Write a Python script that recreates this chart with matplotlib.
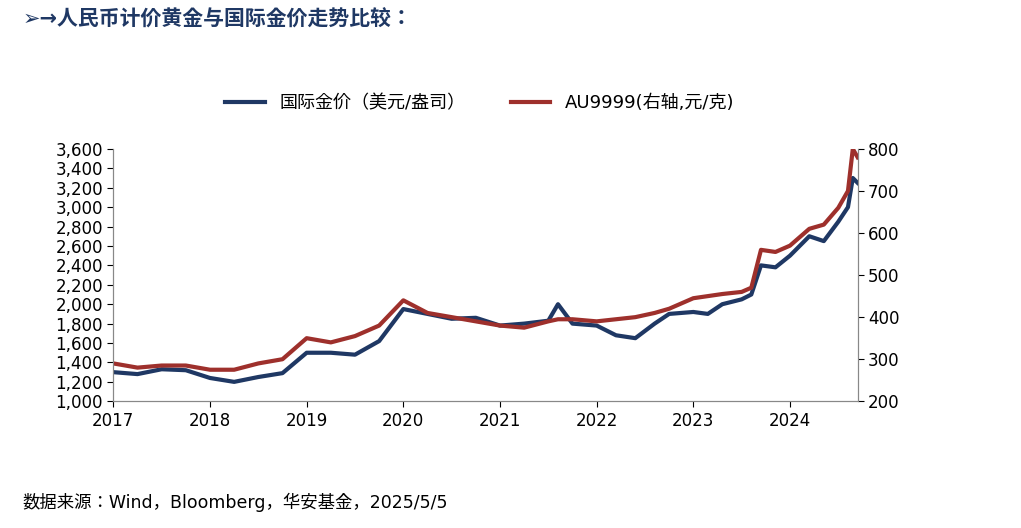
import matplotlib.pyplot as plt
import matplotlib.ticker as mt

plt.rcParams['font.family'] = ['DejaVu Sans', 'Noto Sans CJK SC', 'Noto Sans CJK JP',
                               'Noto Sans CJK TC', 'Noto Sans CJK KR']

# positions in axis-label years
x_usd = [2017.0, 2017.25, 2017.5, 2017.75, 2018.0, 2018.25, 2018.5, 2018.75,
         2019.0, 2019.25, 2019.5, 2019.75, 2020.0, 2020.25, 2020.5, 2020.75,
         2021.0, 2021.25, 2021.5, 2021.6, 2021.75, 2022.0, 2022.2, 2022.4,
         2022.6, 2022.75, 2023.0, 2023.15, 2023.3, 2023.5, 2023.6, 2023.7,
         2023.85, 2024.0, 2024.2, 2024.35, 2024.5, 2024.6, 2024.65, 2024.7]
usd = [1300, 1280, 1330, 1320, 1240, 1200, 1250, 1290,
       1500, 1500, 1480, 1620, 1950, 1900, 1850, 1860,
       1780, 1800, 1830, 2000, 1800, 1780, 1680, 1650,
       1800, 1900, 1920, 1900, 2000, 2050, 2100, 2400,
       2380, 2500, 2700, 2650, 2850, 3000, 3300, 3250]
cny = [290, 280, 285, 285, 275, 275, 290, 300,
       350, 340, 355, 380, 440, 410, 400, 390,
       380, 375, 390, 395, 395, 390, 395, 400,
       410, 420, 445, 450, 455, 460, 470, 560,
       555, 570, 610, 620, 660, 700, 800, 780]
years = list(range(2017, 2025))

fig = plt.figure(figsize=(10.21, 5.28), dpi=100)
ax = fig.add_axes([0.111, 0.240, 0.729, 0.478])
ax2 = ax.twinx()

l1, = ax.plot(x_usd, usd, color='#1F3864', lw=3, label='国际金价（美元/盎司）')
l2, = ax2.plot(x_usd, cny, color='#9E302C', lw=3, label='AU9999(右轴,元/克)')

ax.set_xlim(2017, 2024.7)
ax.set_ylim(1000, 3600)
ax.set_yticks(range(1000, 3601, 200))
ax.yaxis.set_major_formatter(mt.StrMethodFormatter('{x:,.0f}'))
ax2.set_ylim(200, 800)
ax2.set_yticks(range(200, 801, 100))
ax.set_xticks(years)
for a in (ax, ax2):
    a.tick_params(labelsize=12, length=4, direction='out')
    a.spines['top'].set_visible(False)
    for s in a.spines.values():
        s.set_color('#888888')

fig.legend(handles=[l1, l2], loc='center', bbox_to_anchor=(0.47, 0.805), ncol=2,
           frameon=False, fontsize=13, handlelength=2.2, columnspacing=2.5)

fig.text(0.022, 0.963, '➢→人民币计价黄金与国际金价走势比较：', fontsize=15,
         fontweight='bold', color='#1F3864', va='center')
fig.text(0.022, 0.048, '数据来源：Wind，Bloomberg，华安基金，2025/5/5', fontsize=12.5,
         va='center')

fig.savefig('out.png')
